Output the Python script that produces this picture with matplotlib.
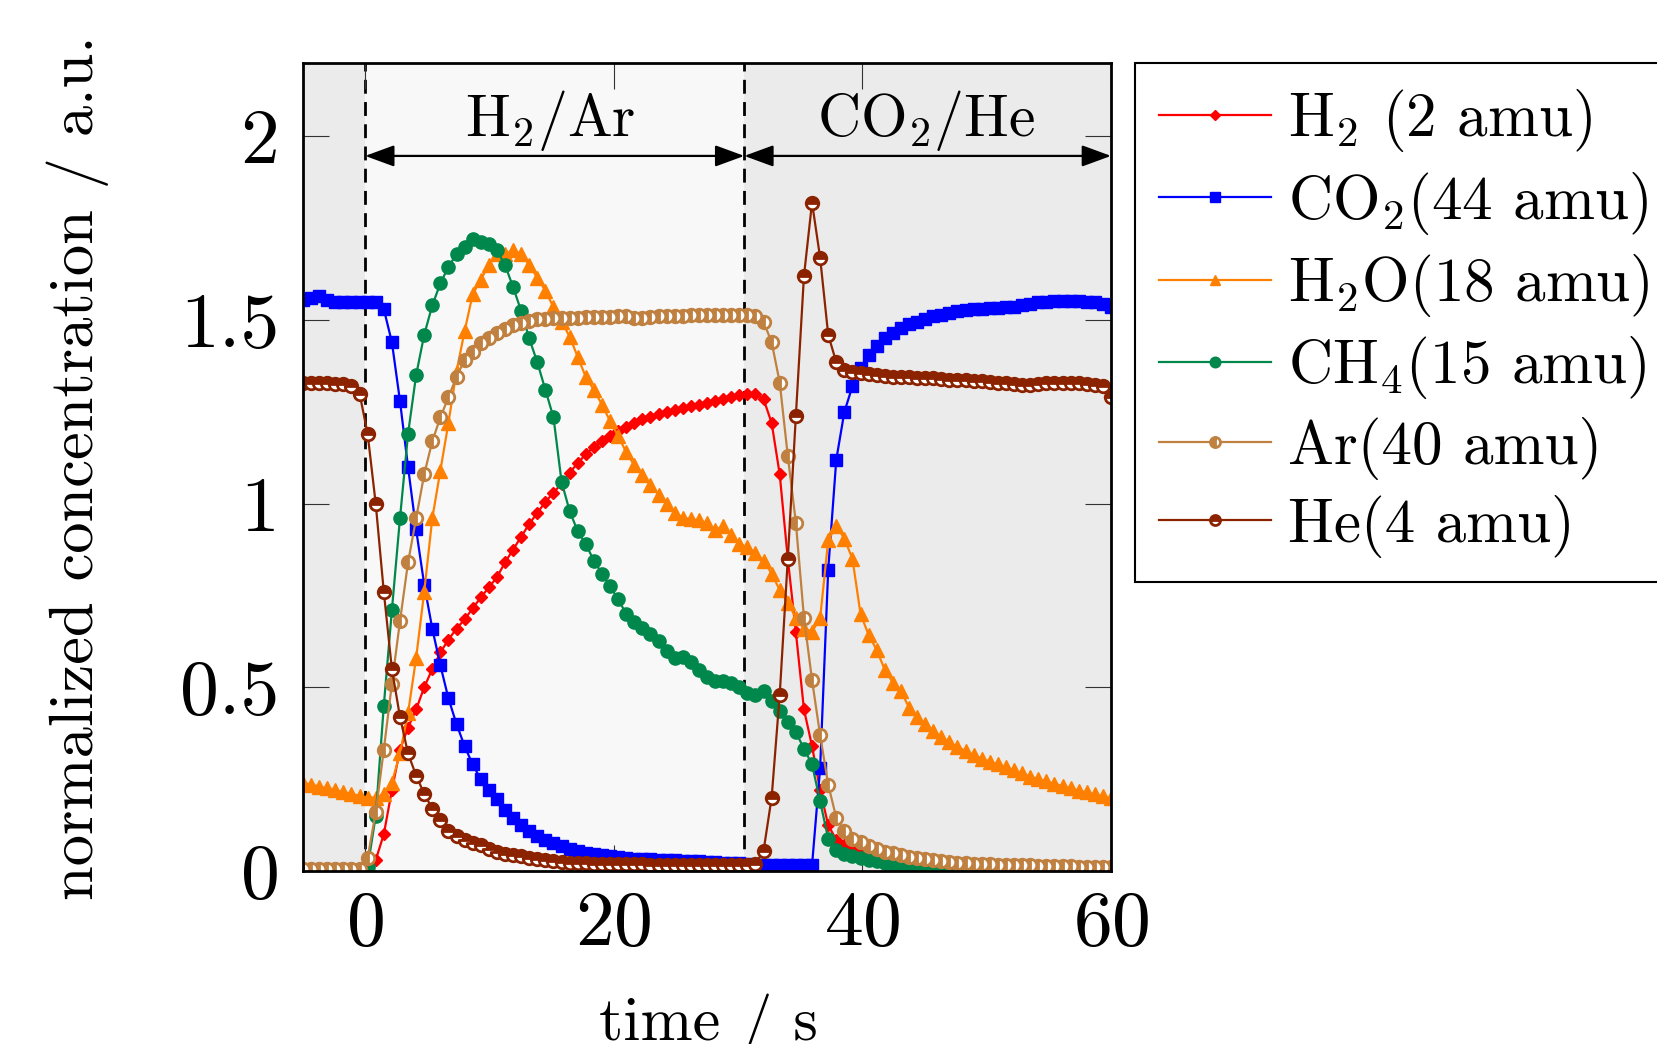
import numpy as np
import matplotlib
matplotlib.use('Agg')
import matplotlib.pyplot as plt

plt.rcParams['font.family'] = 'cmr10'
plt.rcParams['mathtext.fontset'] = 'cm'
plt.rcParams['axes.unicode_minus'] = False
plt.rcParams['axes.formatter.use_mathtext'] = True

# ---------------- data ----------------
# sampling times of the mass spectrometer (s)
t = np.linspace(-5.0, 60.0, 101)

h2 = ([0.005] * 8 +
      [0.01, 0.03, 0.10, 0.22, 0.33, 0.39, 0.44, 0.50, 0.55, 0.595, 0.63, 0.66,
       0.685, 0.715, 0.745, 0.772, 0.80, 0.84, 0.875, 0.91, 0.945, 0.975, 1.005,
       1.03, 1.055, 1.085, 1.11, 1.135, 1.155, 1.17, 1.185, 1.198, 1.21, 1.22,
       1.23, 1.237, 1.244, 1.25, 1.256, 1.262, 1.266, 1.27, 1.274, 1.28, 1.285,
       1.29, 1.295, 1.30, 1.30, 1.285, 1.22, 1.08, 0.85, 0.65, 0.44, 0.34, 0.22,
       0.125, 0.085, 0.07, 0.058, 0.048, 0.04, 0.034, 0.028, 0.024, 0.02, 0.017,
       0.015, 0.013, 0.012, 0.011, 0.01] +
      [0.009, 0.009] + [0.008] * 18)

co2 = ([1.555, 1.56, 1.565, 1.555, 1.55, 1.55, 1.55, 1.55, 1.55, 1.55] +
       [1.53, 1.44, 1.28, 1.10, 0.93, 0.78, 0.66, 0.56, 0.47, 0.40, 0.34, 0.29,
        0.25, 0.22, 0.195, 0.165, 0.143, 0.125, 0.108, 0.095, 0.084, 0.075, 0.067,
        0.061, 0.055, 0.05, 0.046, 0.043, 0.04, 0.038, 0.036, 0.034, 0.033, 0.032,
        0.031, 0.03, 0.029, 0.028, 0.027, 0.026, 0.025, 0.024, 0.023, 0.022,
        0.021, 0.02] +
       [0.016] * 8 +
       [0.28, 0.82, 1.12, 1.25, 1.32, 1.37, 1.405, 1.43, 1.45, 1.465, 1.478,
        1.488, 1.496, 1.503, 1.51, 1.515, 1.52, 1.524, 1.527, 1.529, 1.531, 1.533,
        1.534, 1.536, 1.537, 1.54, 1.544, 1.548, 1.55, 1.552, 1.553, 1.553, 1.552,
        1.55, 1.548, 1.545, 1.535])

h2o = ([0.24, 0.235, 0.23, 0.225, 0.22, 0.215, 0.21, 0.205, 0.2, 0.2, 0.21] +
       [0.24, 0.32, 0.43, 0.58, 0.76, 0.96, 1.09, 1.22, 1.36, 1.47, 1.57, 1.61,
        1.65, 1.68, 1.68, 1.69, 1.68, 1.65, 1.615, 1.58, 1.535, 1.496, 1.455, 1.40,
        1.345, 1.31, 1.27, 1.225, 1.185, 1.14] +
       [1.105, 1.078, 1.05, 1.025, 1.0, 0.975, 0.962, 0.958, 0.955, 0.948, 0.928,
        0.94, 0.915, 0.89, 0.882, 0.866, 0.845, 0.81, 0.765, 0.73, 0.69, 0.66,
        0.652, 0.688, 0.90, 0.94, 0.905, 0.85, 0.70, 0.643] +
       [0.602, 0.548, 0.513, 0.49, 0.445, 0.42, 0.40, 0.382, 0.364, 0.35, 0.338,
        0.327, 0.316, 0.306, 0.298, 0.29, 0.282, 0.274, 0.266, 0.257, 0.25, 0.244,
        0.238, 0.231, 0.225, 0.219, 0.214, 0.209, 0.203, 0.198])

ch4 = ([0.005] * 8 +
       [0.01, 0.15, 0.45, 0.71, 0.96, 1.19, 1.35, 1.46, 1.54, 1.60, 1.645, 1.68,
        1.70, 1.72, 1.712, 1.706, 1.69, 1.65, 1.59, 1.525, 1.45, 1.385, 1.31,
        1.235] +
       [1.06, 0.98, 0.925, 0.89, 0.845, 0.81, 0.775, 0.74, 0.70, 0.678, 0.662,
        0.645, 0.625, 0.598, 0.58, 0.582, 0.568, 0.546, 0.528, 0.516, 0.518,
        0.511, 0.50, 0.484, 0.478, 0.49] +
       [0.462, 0.435, 0.405, 0.378, 0.333, 0.29, 0.19, 0.088, 0.058, 0.047, 0.04,
        0.035, 0.03, 0.026, 0.022, 0.019, 0.016, 0.014, 0.012, 0.01, 0.009,
        0.008] +
       [0.007, 0.007, 0.006, 0.006, 0.006] + [0.005] * 16)

ar = ([0.005] * 8 +
      [0.035, 0.16, 0.33, 0.51, 0.68, 0.84, 0.96, 1.08, 1.17, 1.235, 1.29, 1.345,
       1.392, 1.414, 1.437, 1.452, 1.466, 1.476, 1.486, 1.492, 1.497, 1.502,
       1.504, 1.505] +
      [1.506, 1.507, 1.507, 1.508, 1.508, 1.509, 1.509, 1.51, 1.51, 1.506, 1.505,
       1.508, 1.51, 1.511, 1.512, 1.512, 1.513, 1.513, 1.514, 1.514, 1.514, 1.514,
       1.514, 1.514, 1.512] +
      [1.495, 1.44, 1.33, 1.13, 0.948, 0.69, 0.52, 0.37, 0.235, 0.145, 0.108,
       0.088, 0.078, 0.068, 0.06, 0.053, 0.048, 0.043, 0.039, 0.035, 0.032, 0.029,
       0.027, 0.025, 0.023, 0.021] +
      [0.02, 0.019, 0.018, 0.017, 0.016, 0.016, 0.015, 0.015, 0.014, 0.014, 0.013,
       0.013, 0.013, 0.012, 0.012, 0.012, 0.012, 0.012])

he = ([1.33, 1.33, 1.33, 1.33, 1.325, 1.325, 1.32, 1.30] +
      [1.19, 1.0, 0.76, 0.55, 0.42, 0.32, 0.26, 0.21, 0.17, 0.14, 0.11, 0.095,
       0.085, 0.075, 0.07, 0.06, 0.053, 0.047, 0.043, 0.04, 0.036, 0.032, 0.029,
       0.026, 0.024, 0.023, 0.022, 0.021, 0.02, 0.02] +
      [0.019, 0.019, 0.018, 0.018, 0.018, 0.017, 0.017, 0.017, 0.016, 0.016,
       0.016, 0.016, 0.015, 0.015, 0.015, 0.015, 0.015, 0.015] +
      [0.02, 0.055, 0.20, 0.48, 0.85, 1.24, 1.62, 1.82, 1.67, 1.46, 1.385, 1.365,
       1.36, 1.356, 1.353, 1.35] +
      [1.348, 1.346, 1.345, 1.344, 1.343, 1.342, 1.341, 1.34, 1.338, 1.337, 1.336,
       1.335, 1.333, 1.332, 1.33, 1.328, 1.325, 1.322, 1.322, 1.325, 1.328, 1.33,
       1.33, 1.33, 1.328, 1.326, 1.324, 1.32, 1.29])

labels = [r'H$_2$ (2 amu)', r'CO$_2$(44 amu)', r'H$_2$O(18 amu)',
          r'CH$_4$(15 amu)', r'Ar(40 amu)', r'He(4 amu)']

x_switch = 30.5
xticks = [0, 20, 40, 60]
yticks = [0, 0.5, 1, 1.5, 2]
yticklabels = ['0', '0.5', '1', '1.5', '2']

# ---------------- figure ----------------
fig = plt.figure(figsize=(16.58, 10.44), dpi=100)
ax = fig.add_axes([303 / 1658, 1 - 871 / 1044, 808 / 1658, 808 / 1044])
ax.set_facecolor('none')

ax.axvspan(-5, 0, color='#ebebeb', zorder=0, lw=0)
ax.axvspan(0, x_switch, color='#f8f8f8', zorder=0, lw=0)
ax.axvspan(x_switch, 60, color='#ebebeb', zorder=0, lw=0)
for xv in (0, x_switch):
    ax.axvline(xv, color='black', lw=2.0, ls=(0, (5, 3)), zorder=1)

lw = 1.6
ax.plot(t, h2, color='#ff0000', lw=lw, marker='D', ms=6.5, mec='#ff0000',
        mfc='#ff0000', label=labels[0], zorder=3)
ax.plot(t, co2, color='#0000ff', lw=lw, marker='s', ms=8.5, mec='#0000ff',
        mfc='#0000ff', label=labels[1], zorder=3)
ax.plot(t, h2o, color='#ff8000', lw=lw, marker='^', ms=9.5, mec='#ff8000',
        mfc='#ff8000', label=labels[2], zorder=3)
ax.plot(t, ch4, color='#00874b', lw=lw, marker='o', ms=9.5, mec='#00874b',
        mfc='#00874b', label=labels[3], zorder=3)
ax.plot(t, ar, color='#bf8040', lw=lw, marker='o', ms=9, mec='#bf8040',
        mfc='#bf8040', mew=2.0, fillstyle='left', markerfacecoloralt='white',
        label=labels[4], zorder=3)
ax.plot(t, he, color='#8c2300', lw=lw, marker='o', ms=9, mec='#8c2300',
        mfc='#8c2300', mew=2.0, fillstyle='top', markerfacecoloralt='white',
        label=labels[5], zorder=3)

# phase annotations
arrow_y = 1.947
for x0, x1 in ((0, x_switch), (x_switch, 60)):
    ax.annotate('', xy=(x1, arrow_y), xytext=(x0, arrow_y),
                arrowprops=dict(arrowstyle='<|-|>,head_length=0.9,head_width=0.33',
                                mutation_scale=20, lw=1.6, color='black',
                                shrinkA=0, shrinkB=0), zorder=4)
ax.text(14.9, 2.0, r'H$_2$/Ar', ha='center', va='baseline', fontsize=43, zorder=4)
ax.text(45.1, 2.0, r'CO$_2$/He', ha='center', va='baseline', fontsize=43, zorder=4)

ax.set_xlim(-5, 60)
ax.set_ylim(0, 2.2)
ax.set_xticks(xticks)
ax.set_yticks(yticks, yticklabels)
ax.tick_params(direction='in', length=19, width=0.8, color='#333333',
               top=True, right=True, labelsize=56)
ax.tick_params(axis='x', pad=14)
ax.tick_params(axis='y', pad=17)
for sp in ax.spines.values():
    sp.set_linewidth(2.0)
    sp.set_zorder(5)

fig.text(78 / 1658, 1 - 468 / 1044, 'normalized concentration / a.u.',
         rotation=90, ha='center', va='center', fontsize=45)
fig.text(708 / 1658, 1 - 1040 / 1044, 'time / s', ha='center',
         va='baseline', fontsize=45)

leg = ax.legend(loc='upper left', bbox_to_anchor=(1135 / 1658, 1 - 63 / 1044),
                bbox_transform=fig.transFigure, fontsize=44, frameon=True,
                fancybox=False, edgecolor='black', framealpha=1,
                handlelength=1.82, handletextpad=0.28, borderpad=0.4,
                labelspacing=0.25, borderaxespad=0, markerscale=0.8)
leg.get_frame().set_linewidth(1.5)

fig.savefig('out.png', dpi=100)
